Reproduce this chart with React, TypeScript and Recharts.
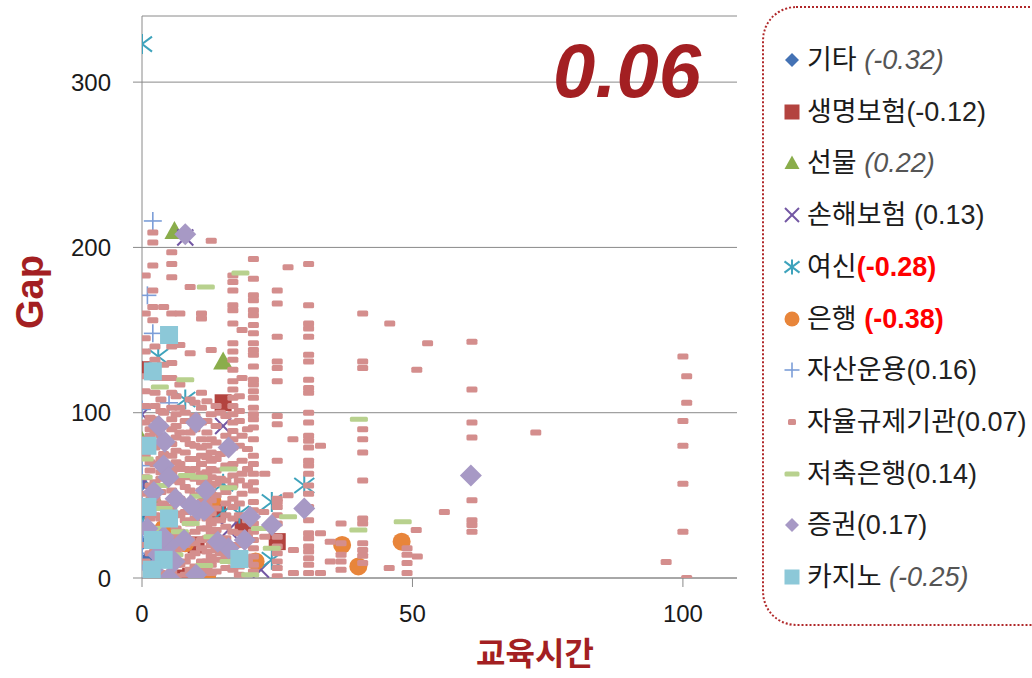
import React from 'react';
import { ScatterChart, Scatter, XAxis, YAxis, CartesianGrid } from 'recharts';

type Pt = [number, number];

// ---- data (교육시간, Gap) ----
const etcPoints: Pt[] = [[0, 127], [0, 39], [0, 57], [0, 21], [1, 12]];
const lifeInsPoints: Pt[] = [[0, 126], [15, 106], [14, 40], [12, 48], [18.7, 31], [25, 22], [8, 0], [12, 0], [10, 20], [3, 20], [9, 1]];
const futuresPoints: Pt[] = [[0, 83], [6, 210], [15, 131], [2, 50]];
const nonLifePoints: Pt[] = [[8, 206], [0, 99], [15, 92], [0, 57], [16, 29], [2, 18], [22, 5]];
const creditPoints: Pt[] = [[0, 323], [8, 108], [3, 134], [15, 57], [18, 39], [24, 46], [30, 56], [0, 35], [24, 11], [15, 40]];
const bankPoints: Pt[] = [[37, 20], [40, 7], [48, 22], [21, 10], [13, 47], [12, 1], [8, 21], [4, 30]];
const assetMgmtPoints: Pt[] = [[2, 216], [1, 171], [2, 148], [5, 106], [0, 102], [0, 68], [0, 61], [0, 52], [1, 45], [1, 40], [0, 30], [0, 25], [0, 20], [0, 15], [0, 10]];
const selfRegPoints: Pt[] = [
  [0.6, 183], [0.6, 160], [0.6, 145], [0.6, 137], [0.6, 122], [0.6, 113], [0.6, 104], [0.6, 94], [0.6, 84], [0.6, 74], [0.6, 61], [0.6, 51], [0.6, 41], [0.6, 30], [0.6, 20], [0.6, 10],
  [1.5, 97], [1.5, 90], [1.5, 86], [1.5, 77], [1.5, 70], [1.5, 65], [1.5, 56], [1.5, 47], [1.5, 36], [1.5, 25], [1.5, 15], [1.5, 5],
  [2, 209], [2, 203], [2, 189], [2, 174], [2, 164], [2, 156], [2.4, 140], [2.4, 132], [2.4, 121], [2.4, 112], [2.4, 104], [2.4, 96], [2.4, 88], [2.4, 79], [2.4, 69], [2.4, 58], [2.4, 48], [2.4, 38], [2.4, 28], [2.4, 18], [2.4, 8],
  [3.5, 108], [3.5, 101], [3.5, 93], [3.5, 86], [3.5, 80], [3.5, 72], [3.5, 64], [3.5, 60], [3.5, 52], [3.5, 44], [3.5, 36], [3.5, 30], [3.5, 20], [3.5, 12], [3.5, 3],
  [4, 164], [4, 129], [4, 121], [4, 100], [4, 75], [4, 45], [4, 15],
  [5.5, 197], [5.5, 190], [5.5, 182], [5.5, 160], [5.5, 140], [5.5, 130], [5.5, 121], [5.5, 112], [5.5, 103], [5.5, 96], [5.5, 90], [5.5, 81], [5.5, 74], [5.5, 63], [5.5, 53], [5.5, 43], [5.5, 33], [5.5, 23], [5.5, 13], [5.5, 4],
  [6.3, 110], [6.3, 99], [6.3, 92], [6.3, 85], [6.3, 77], [6.3, 70], [6.3, 66], [6.3, 59], [6.3, 50], [6.3, 46], [6.3, 39], [6.3, 30], [6.3, 26], [6.3, 16], [6.3, 8], [6.3, 1],
  [7, 160], [7, 141], [7, 117], [7, 103], [7, 88], [7, 69], [7, 58], [7, 48], [7, 38], [7, 28], [7, 18], [7, 8],
  [8, 100], [8, 95], [8, 84], [8, 76], [8, 66], [8, 61], [8, 55], [8, 46], [8, 40], [8, 35], [8, 26], [8, 20], [8, 10], [8, 2],
  [8.9, 176], [8.9, 136], [8.9, 108], [8.9, 88], [8.9, 81], [8.9, 72], [8.9, 63], [8.9, 53], [8.9, 43], [8.9, 33], [8.9, 23], [8.9, 13], [8.9, 5],
  [9.8, 106], [9.8, 98], [9.8, 90], [9.8, 80], [9.8, 72], [9.8, 66], [9.8, 60], [9.8, 50], [9.8, 44], [9.8, 36], [9.8, 28], [9.8, 21], [9.8, 15], [9.8, 7], [9.8, 1],
  [11, 160], [11, 157], [11, 112], [11, 103], [11, 94], [11, 84], [11, 79], [11, 74], [11, 69], [11, 63], [11, 58], [11, 53], [11, 46], [11, 38], [11, 30], [11, 23], [11, 18], [11, 10], [11, 5],
  [12, 107], [12, 95], [12, 88], [12, 80], [12, 73], [12, 64], [12, 58], [12, 51], [12, 44], [12, 36], [12, 30], [12, 24], [12, 16], [12, 10], [12, 5],
  [12.8, 204], [12.8, 138], [12.8, 99], [12.8, 84], [12.8, 76], [12.8, 71], [12.8, 66], [12.8, 61], [12.8, 56], [12.8, 47], [12.8, 39], [12.8, 33], [12.8, 27], [12.8, 20], [12.8, 13], [12.8, 8], [12.8, 3],
  [13.7, 104], [13.7, 92], [13.7, 82], [13.7, 72], [13.7, 65], [13.7, 57], [13.7, 50], [13.7, 42], [13.7, 35], [13.7, 29], [13.7, 22], [13.7, 17], [13.7, 11], [13.7, 4],
  [14.5, 100], [14.5, 75], [14.5, 60], [14.5, 35], [14.5, 15],
  [15.5, 98], [15.5, 86], [15.5, 76], [15.5, 68], [15.5, 59], [15.5, 52], [15.5, 45], [15.5, 38], [15.5, 31], [15.5, 24], [15.5, 18], [15.5, 12], [15.5, 6],
  [16.8, 183], [16.8, 179], [16.8, 174], [16.8, 165], [16.8, 162], [16.8, 154], [16.8, 142], [16.8, 137], [16.8, 132], [16.8, 126], [16.8, 119], [16.8, 114], [16.8, 109], [16.8, 104], [16.8, 99], [16.8, 94], [16.8, 89], [16.8, 84], [16.8, 79], [16.8, 69], [16.8, 62], [16.8, 56], [16.8, 48], [16.8, 43], [16.8, 36], [16.8, 28], [16.8, 20], [16.8, 15], [16.8, 10], [16.8, 5],
  [18, 110], [18, 101], [18, 95], [18, 80], [18, 59], [18, 45], [18, 38], [18, 27], [18, 20], [18, 14], [18, 7], [18, 2],
  [18.5, 150], [18.5, 121], [18.5, 86], [18.5, 71], [18.5, 63], [18.5, 51],
  [19.5, 90], [19.5, 78], [19.5, 66], [19.5, 56], [19.5, 35], [19.5, 25], [19.5, 10],
  [20.6, 193], [20.6, 181], [20.6, 171], [20.6, 168], [20.6, 162], [20.6, 159], [20.6, 153], [20.6, 148], [20.6, 142], [20.6, 138], [20.6, 135], [20.6, 128], [20.6, 120], [20.6, 117], [20.6, 113], [20.6, 109], [20.6, 103], [20.6, 99], [20.6, 96], [20.6, 91], [20.6, 84], [20.6, 74], [20.6, 69], [20.6, 63], [20.6, 58], [20.6, 53], [20.6, 46], [20.6, 41], [20.6, 33], [20.6, 28], [20.6, 23], [20.6, 18], [20.6, 13], [20.6, 8], [20.6, 4],
  [22.7, 63], [22.7, 25], [22.5, 40],
  [25, 174], [25, 166], [25, 146], [25, 131], [25, 127], [25, 119], [25, 98], [25, 93], [25, 71], [25, 48], [25, 46], [25, 43], [25, 38], [25, 33], [25, 25], [25, 19], [25, 15], [25, 10], [25, 6], [25, 1],
  [27, 188], [27.9, 84], [27, 50], [28, 17], [28, 3],
  [30.8, 190], [30.8, 165], [30.8, 154], [30.8, 151], [30.8, 146], [30.8, 135], [30.8, 131], [30.8, 120], [30.8, 115], [30.8, 112], [30.8, 100], [30.8, 94], [30.8, 86], [30.8, 83], [30.8, 79], [30.8, 71], [30.8, 68], [30.8, 63], [30.8, 56], [30.8, 51], [30.8, 43], [30.8, 35], [30.8, 27], [30.8, 24], [30.8, 19], [30.8, 16], [30.8, 12], [30.8, 8], [30.8, 3],
  [33, 80], [33, 27], [33, 3],
  [34.8, 22], [34.8, 10],
  [36.8, 33], [36.8, 21], [36.8, 14], [36.8, 10], [36.8, 5],
  [40.8, 160], [40.8, 131], [40.8, 127], [40.8, 90], [40.8, 84], [40.8, 76], [40.8, 59], [40.8, 36], [40.8, 33], [40.8, 21], [40.8, 17], [40.8, 13.5], [40.8, 9],
  [45.8, 154], [45.7, 6],
  [49, 18], [49, 14], [49, 9], [49, 3],
  [50.8, 126], [50.7, 29], [50.9, 13],
  [52.8, 142], [55.9, 40],
  [61, 143], [61, 114], [61, 94], [61, 85], [61, 47], [61, 35], [61, 32], [61, 28],
  [72.8, 88], [96.9, 9.7],
  [100, 134], [100.7, 122], [100.7, 106], [100, 95], [100, 80], [100, 57], [100, 28], [100.7, 0],
];
const savingsBankPoints: Pt[] = [[3.3, 115.6], [8, 120], [11.8, 176], [18.2, 184.5], [40.1, 96], [48.2, 34], [40, 29], [27, 37], [24, 18], [21.8, 30], [20, 2], [0.5, 72], [0.3, 61], [3.4, 56], [8.3, 62], [10.5, 61], [10.5, 49.5], [16, 66], [16, 54.6], [11.5, 7.6], [7, 28], [16, 10], [4, 42], [2, 30], [5, 38], [9, 33], [13, 25], [6, 14]];
const securitiesPoints: Pt[] = [[8, 208], [10, 94], [16, 79], [3.1, 92], [4.2, 82.5], [4, 68], [4.9, 61], [11.8, 53], [10.3, 41], [11.5, 41], [20, 37], [24, 32], [30, 42], [60.8, 62], [16, 18], [19, 23], [7.8, 23], [5, 20], [2, 5], [2, 0], [5, 0], [10, 2], [6, 10], [2.2, 52], [6.2, 48], [1, 30], [4, 25], [3, 14], [9, 44], [14, 22]];
const casinoPoints: Pt[] = [[5, 147], [2, 125], [1, 80], [1, 43], [5, 36], [2, 23], [4, 11], [1.8, 5], [18, 11.5]];

const xTicks = [0, 50, 100];
const yTicks = [0, 100, 200, 300];

type Kind = 'diamond' | 'square' | 'triangle' | 'x' | 'star' | 'circle' | 'plus' | 'dash' | 'longdash';

interface SeriesDef {
  name: string;
  value: string;
  gap: boolean;
  valueStyle: 'italic' | 'normal' | 'red';
  kind: Kind;
  color: string;
  size: number;
  points: Pt[];
}

const series: SeriesDef[] = [
  { name: '기타', value: '(-0.32)', gap: true, valueStyle: 'italic', kind: 'diamond', color: '#4472B4', size: 15, points: etcPoints },
  { name: '생명보험', value: '(-0.12)', gap: false, valueStyle: 'normal', kind: 'square', color: '#B3433F', size: 17, points: lifeInsPoints },
  { name: '선물', value: '(0.22)', gap: true, valueStyle: 'italic', kind: 'triangle', color: '#8AAD4B', size: 20, points: futuresPoints },
  { name: '손해보험', value: '(0.13)', gap: true, valueStyle: 'normal', kind: 'x', color: '#7357A3', size: 16, points: nonLifePoints },
  { name: '여신', value: '(-0.28)', gap: false, valueStyle: 'red', kind: 'star', color: '#3EA3BC', size: 20, points: creditPoints },
  { name: '은행', value: '(-0.38)', gap: true, valueStyle: 'red', kind: 'circle', color: '#E8853A', size: 18, points: bankPoints },
  { name: '자산운용', value: '(0.16)', gap: false, valueStyle: 'normal', kind: 'plus', color: '#7C9ED8', size: 18, points: assetMgmtPoints },
  { name: '자율규제기관', value: '(0.07)', gap: false, valueStyle: 'normal', kind: 'dash', color: '#D48E8D', size: 11, points: selfRegPoints },
  { name: '저축은행', value: '(0.14)', gap: false, valueStyle: 'normal', kind: 'longdash', color: '#B8D18E', size: 18, points: savingsBankPoints },
  { name: '증권', value: '(0.17)', gap: false, valueStyle: 'normal', kind: 'diamond', color: '#A799C5', size: 22, points: securitiesPoints },
  { name: '카지노', value: '(-0.25)', gap: true, valueStyle: 'italic', kind: 'square', color: '#8CC8D8', size: 18, points: casinoPoints },
];

function drawMarker(kind: Kind, color: string, s: number, cx: number, cy: number, key?: string) {
  const r = s / 2;
  switch (kind) {
    case 'diamond':
      return <polygon key={key} points={`${cx},${cy - r} ${cx + r},${cy} ${cx},${cy + r} ${cx - r},${cy}`} fill={color} />;
    case 'square':
      return <rect key={key} x={cx - r} y={cy - r} width={s} height={s} fill={color} />;
    case 'triangle':
      return <polygon key={key} points={`${cx},${cy - r} ${cx + r},${cy + r * 0.8} ${cx - r},${cy + r * 0.8}`} fill={color} />;
    case 'x':
      return (
        <g key={key} stroke={color} strokeWidth={2}>
          <line x1={cx - r} y1={cy - r} x2={cx + r} y2={cy + r} />
          <line x1={cx - r} y1={cy + r} x2={cx + r} y2={cy - r} />
        </g>
      );
    case 'star':
      return (
        <g key={key} stroke={color} strokeWidth={2}>
          <line x1={cx - r} y1={cy - r * 0.75} x2={cx + r} y2={cy + r * 0.75} />
          <line x1={cx - r} y1={cy + r * 0.75} x2={cx + r} y2={cy - r * 0.75} />
          <line x1={cx} y1={cy - r} x2={cx} y2={cy + r} />
        </g>
      );
    case 'circle':
      return <circle key={key} cx={cx} cy={cy} r={r} fill={color} />;
    case 'plus':
      return (
        <g key={key} stroke={color} strokeWidth={1.6}>
          <line x1={cx - r} y1={cy} x2={cx + r} y2={cy} />
          <line x1={cx} y1={cy - r} x2={cx} y2={cy + r} />
        </g>
      );
    case 'dash':
      return <rect key={key} x={cx - r} y={cy - 3} width={s} height={6} rx={1.5} fill={color} />;
    case 'longdash':
      return <rect key={key} x={cx - r} y={cy - 2.5} width={s} height={5} rx={1.5} fill={color} />;
  }
  return null;
}

const makeShape = (kind: Kind, color: string, size: number) => (props: any) => {
  const { cx, cy } = props;
  if (cx == null || cy == null || isNaN(cx) || isNaN(cy)) return <g />;
  return <g>{drawMarker(kind, color, size, cx, cy)}</g>;
};

const toData = (pts: Pt[]) => pts.map(([x, y]) => ({ x, y }));

const FONT = "'Liberation Sans', Arial, 'Noto Sans CJK KR', sans-serif";
const TITLE_RED = '#A31F22';

const legendMarkerSize: Record<string, number> = {
  diamond: 14, square: 15, triangle: 15, x: 14, star: 15, circle: 15, plus: 15, dash: 8, longdash: 15,
};

function LegendBox() {
  const startY = 61;
  const step = 51.7;
  return (
    <div
      style={{
        position: 'absolute', left: 762, top: 6, width: 310, height: 620,
        border: '2px dotted #B0282A', borderRadius: 34, boxSizing: 'border-box',
      }}
    >
      {series.map((s, i) => {
        const cy = startY + i * step - 9;
        const valStyle: React.CSSProperties =
          s.valueStyle === 'italic'
            ? { fontStyle: 'italic', color: '#555555' }
            : s.valueStyle === 'red'
            ? { fontWeight: 'bold', color: '#FF0000' }
            : { color: '#222222' };
        const ms = legendMarkerSize[s.kind];
        return (
          <div key={s.name} style={{ position: 'absolute', left: 0, top: cy - 18, height: 36, whiteSpace: 'nowrap' }}>
            <svg width={20} height={20} style={{ position: 'absolute', left: 18, top: 8 }}>
              {drawMarker(s.kind as Kind, s.color, ms, 10, 10)}
            </svg>
            <span style={{ position: 'absolute', left: 43, top: -2, lineHeight: '36px', fontSize: 27, fontFamily: FONT, color: '#1a1a1a' }}>
              <span style={{ fontFamily: "'Noto Sans CJK KR', sans-serif" }}>{s.name}</span>
              {s.gap ? ' ' : ''}
              <span style={valStyle}>{s.value}</span>
            </span>
          </div>
        );
      })}
    </div>
  );
}

export default function App() {
  return (
    <div style={{ position: 'absolute', left: 0, top: 0, width: 1032, height: 678, overflow: 'hidden', background: '#ffffff', fontFamily: FONT }}>
      <ScatterChart width={1032} height={678} margin={{ top: 16, right: 295, bottom: 40, left: 62 }}>
        <CartesianGrid horizontal vertical={false} stroke="#8a8a8a" strokeWidth={1} />
        <XAxis
          type="number"
          dataKey="x"
          domain={[0, 110]}
          ticks={xTicks}
          interval={0}
          height={60}
          axisLine={{ stroke: '#8a8a8a' }}
          tickLine={{ stroke: '#8a8a8a' }}
          tickSize={9}
          tickMargin={18}
          tick={{ fill: '#1a1a1a', fontSize: 24, fontFamily: FONT }}
          allowDataOverflow
        />
        <YAxis
          type="number"
          dataKey="y"
          domain={[0, 340]}
          ticks={yTicks}
          interval={0}
          width={80}
          axisLine={{ stroke: '#8a8a8a' }}
          tickLine={{ stroke: '#8a8a8a' }}
          tickSize={9}
          tickMargin={22}
          tick={{ fill: '#1a1a1a', fontSize: 24, fontFamily: FONT }}
          allowDataOverflow
        />
        {series.map((s) => (
          <Scatter
            key={s.name}
            name={s.name}
            data={toData(s.points)}
            shape={makeShape(s.kind, s.color, s.size)}
            isAnimationActive={false}
          />
        ))}
      </ScatterChart>
      <svg width={1032} height={678} style={{ position: 'absolute', left: 0, top: 0, pointerEvents: 'none' }}>
        <text x={553} y={97} fontSize={76} fontWeight="bold" fontStyle="italic" fill={TITLE_RED} fontFamily={FONT}>0.06</text>
        <text transform="translate(43,292) rotate(-90)" textAnchor="middle" fontSize={38} fontWeight="bold" fill={TITLE_RED} fontFamily={FONT}>Gap</text>
        <text x={535} y={665} textAnchor="middle" fontSize={32} fontWeight="bold" fill={TITLE_RED} fontFamily="'Noto Sans CJK KR', sans-serif">교육시간</text>
      </svg>
      <LegendBox />
    </div>
  );
}
